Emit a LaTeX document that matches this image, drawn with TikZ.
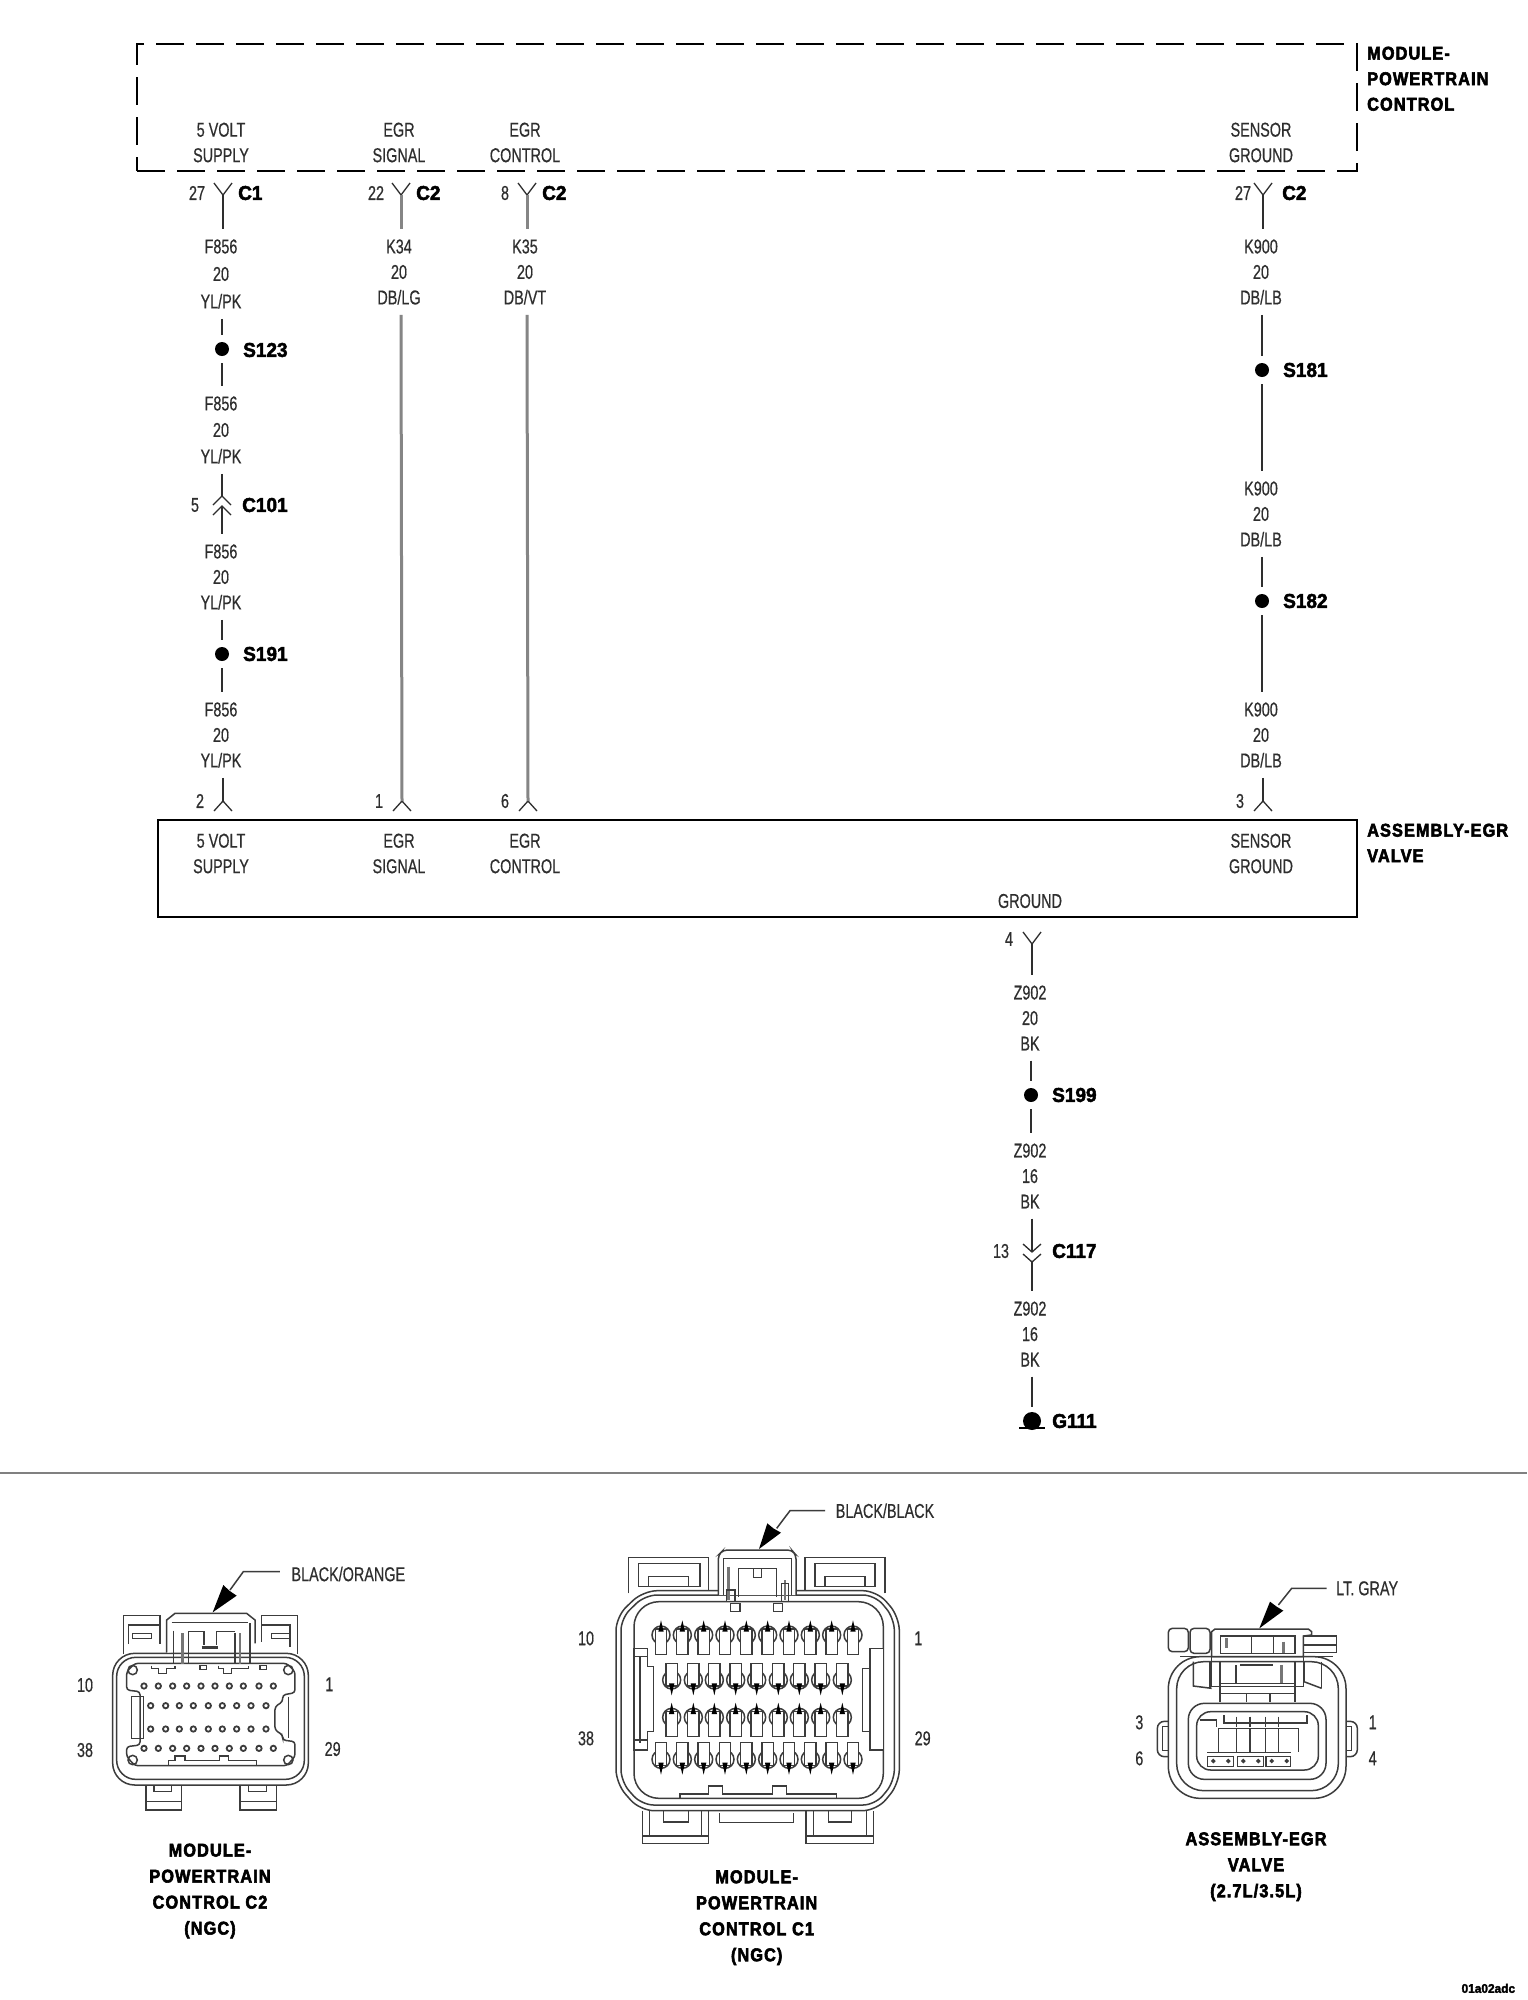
\documentclass[tikz,border=0pt]{standalone}
\usepackage{fontspec}
\setmainfont{Liberation Sans}[FakeStretch=0.72,FakeBold=0.5]
\newfontfamily\heavy{Liberation Sans Bold}[FakeBold=2.4,FakeStretch=0.95]
\newfontfamily\heavyt{Liberation Sans Bold}[FakeBold=3,FakeStretch=0.88,LetterSpace=6]
\definecolor{ink}{HTML}{2E2E2E}
\definecolor{wiregray}{HTML}{858585}
\definecolor{conn}{HTML}{3C3C3C}
\tikzset{
  lab/.style={text=ink,font=\fontsize{20}{25.5}\selectfont,align=center,inner sep=0pt},
  stack/.style={lab,inner xsep=2pt,inner ysep=10pt},
  tag/.style={text=black,font=\heavy\fontsize{20}{24}\selectfont,anchor=west,inner sep=0pt},
  title/.style={text=black,font=\heavyt\fontsize{18.5}{26}\selectfont,align=center,inner sep=0pt},
  sidetitle/.style={text=black,font=\heavyt\fontsize{18.5}{25.5}\selectfont,align=left,inner sep=0pt,anchor=north west},
  wire/.style={draw=ink,line width=1.4pt},
  gwire/.style={draw=wiregray,line width=3pt},
  sym/.style={draw=ink,line width=1.3pt},
  spl/.style={circle,fill=black,inner sep=0pt,minimum size=14pt},
  cl/.style={draw=conn,line width=1.5pt},
  cg/.style={draw=conn!70,line width=2.6pt},
}
\newcommand{\ysym}[3]{\coordinate (#1) at (#2,#3);
  \draw[sym] ([shift={(-9,-12)}]#1) -- (#1) -- ([shift={(9,-12)}]#1);}
\newcommand{\asym}[3]{\coordinate (#1) at (#2,#3);
  \draw[sym] ([shift={(-9,10)}]#1) -- (#1) -- ([shift={(9,10)}]#1);}
\newcommand{\pinup}[2]{%
  \draw[cl,fill=white] (#1,#2) circle (27);
  \draw[cl,fill=white] ({#1-17},{#2-18}) rectangle ({#1+17},{#2+58});
  \fill[black] ({#1-8},{#2-10}) -- (#1,{#2-44}) -- ({#1+8},{#2-10}) -- cycle;}
\newcommand{\pindown}[2]{%
  \draw[cl,fill=white] (#1,#2) circle (27);
  \draw[cl,fill=white] ({#1-17},{#2+18}) rectangle ({#1+17},{#2-50});
  \fill[black] ({#1-8},{#2+10}) -- (#1,{#2+46}) -- ({#1+8},{#2+10}) -- cycle;}
\begin{document}
\begin{tikzpicture}[x=1pt,y=-1pt]
\fill[white] (0,0) rectangle (1527,2000);
\useasboundingbox (0,0) rectangle (1527,2000);

% module boxes
\node[draw=black,line width=2.8pt,dash pattern=on 28pt off 12pt,minimum width=1220pt,minimum height=127pt,inner sep=0pt] (pcm) at (747,107.5) {};
\node[draw=black,line width=2.6pt,minimum width=1199pt,minimum height=97pt,inner sep=0pt] (egr) at (757.5,868.5) {};
\node[sidetitle] (pcmt) at (1367,46.5) {MODULE-\\POWERTRAIN\\CONTROL};
\node[sidetitle] (egrt) at (1367,823.5) {ASSEMBLY-EGR\\VALVE};

% functions in the boxes
\node[lab] (f1) at (221,142.5) {5 VOLT\\SUPPLY};
\node[lab] (f2) at (399,142.5) {EGR\\SIGNAL};
\node[lab] (f3) at (525,142.5) {EGR\\CONTROL};
\node[lab] (f4) at (1261,142.5) {SENSOR\\GROUND};
\node[lab] (e1) at (221,853.5) {5 VOLT\\SUPPLY};
\node[lab] (e2) at (399,853.5) {EGR\\SIGNAL};
\node[lab] (e3) at (525,853.5) {EGR\\CONTROL};
\node[lab] (e4) at (1261,853.5) {SENSOR\\GROUND};
\node[lab] (e5) at (1030,901) {GROUND};

% pins at the module
\ysym{p1}{223}{195} \ysym{p2}{401}{195} \ysym{p3}{527}{195} \ysym{p4}{1263}{195}
\node[lab] (n1) at (197,193) {27}; \node[tag] (t1) at (238,193) {C1};
\node[lab] (n2) at (376,193) {22}; \node[tag] (t2) at (416,193) {C2};
\node[lab] (n3) at (505,193) {8};  \node[tag] (t3) at (542,193) {C2};
\node[lab] (n4) at (1243,193) {27};\node[tag] (t4) at (1282,193) {C2};

% pins at the valve
\asym{q1}{223}{801} \asym{q2}{402}{801} \asym{q3}{528}{801} \asym{q4}{1263}{801}
\node[lab] (m1) at (200,801) {2};
\node[lab] (m2) at (379,801) {1};
\node[lab] (m3) at (505,801) {6};
\node[lab] (m4) at (1240,801) {3};

% 5 volt supply
\node[stack,font=\fontsize{20}{27.5}\selectfont] (a1) at (221,274) {F856\\20\\YL/PK};
\node[spl] (s123) at (222,349) {};
\node[tag] (s123t) at (243,350) {S123};
\node[stack,font=\fontsize{20}{26.5}\selectfont] (a2) at (221,430) {F856\\20\\YL/PK};
\coordinate (c101a) at (222,496); \coordinate (c101b) at (222,506);
\draw[sym] ([shift={(-9,9)}]c101a) -- (c101a) -- ([shift={(9,9)}]c101a);
\draw[sym] ([shift={(-9,9)}]c101b) -- (c101b) -- ([shift={(9,9)}]c101b);
\node[lab] (c101n) at (195,505) {5};
\node[tag] (c101t) at (242,505) {C101};
\node[stack] (a3) at (221,577) {F856\\20\\YL/PK};
\node[spl] (s191) at (222,654) {};
\node[tag] (s191t) at (243,654) {S191};
\node[stack] (a4) at (221,735) {F856\\20\\YL/PK};
\draw[wire] (p1) -- (a1.north -| p1);
\draw[wire] (a1.south -| s123) -- ([yshift=14pt]s123.center);
\draw[wire] ([yshift=-14pt]s123.center) -- (a2.north -| s123);
\draw[wire] (a2.south -| c101a) -- (c101a);
\draw[wire] (c101b) -- (a3.north -| c101b);
\draw[wire] (a3.south -| s191) -- ([yshift=14pt]s191.center);
\draw[wire] ([yshift=-14pt]s191.center) -- (a4.north -| s191);
\draw[wire] (a4.south -| q1) -- (q1);

% EGR signal and control
\node[stack] (b1) at (399,272) {K34\\20\\DB/LG};
\node[stack] (b2) at (525,272) {K35\\20\\DB/VT};
\draw[gwire] (p2) -- (b1.north -| p2);
\draw[gwire] (b1.south -| p2) -- (q2);
\draw[gwire] (p3) -- (b2.north -| p3);
\draw[gwire] (b2.south -| p3) -- (q3);

% sensor ground
\node[stack] (d1) at (1261,272) {K900\\20\\DB/LB};
\node[spl] (s181) at (1262,370) {};
\node[tag] (s181t) at (1283,370) {S181};
\node[stack] (d2) at (1261,514) {K900\\20\\DB/LB};
\node[spl] (s182) at (1262,601) {};
\node[tag] (s182t) at (1283,601) {S182};
\node[stack] (d3) at (1261,735) {K900\\20\\DB/LB};
\draw[wire] (p4) -- (d1.north -| p4);
\draw[wire] (d1.south -| s181) -- ([yshift=14pt]s181.center);
\draw[wire] ([yshift=-14pt]s181.center) -- (d2.north -| s181);
\draw[wire] (d2.south -| s182) -- ([yshift=14pt]s182.center);
\draw[wire] ([yshift=-14pt]s182.center) -- (d3.north -| s182);
\draw[wire] (d3.south -| q4) -- (q4);

% ground
\ysym{g1}{1032}{944}
\node[lab] (g1n) at (1009,939) {4};
\node[stack] (h1) at (1030,1018) {Z902\\20\\BK};
\node[spl] (s199) at (1031,1095) {};
\node[tag] (s199t) at (1052,1095) {S199};
\node[stack] (h2) at (1030,1176) {Z902\\16\\BK};
\coordinate (c117a) at (1032,1252); \coordinate (c117b) at (1032,1262);
\draw[sym] ([shift={(-9,-8)}]c117a) -- (c117a) -- ([shift={(9,-8)}]c117a);
\draw[sym] ([shift={(-9,-8)}]c117b) -- (c117b) -- ([shift={(9,-8)}]c117b);
\node[lab] (c117n) at (1001,1251) {13};
\node[tag] (c117t) at (1052,1251) {C117};
\node[stack] (h3) at (1030,1334) {Z902\\16\\BK};
\coordinate (gnd) at (1032,1428);
\fill[black] (1032,1421) circle (9);
\draw[draw=black,line width=1.8pt] ([xshift=-13pt]gnd) -- ([xshift=13pt]gnd);
\node[tag] (g111t) at (1052,1421) {G111};
\draw[wire] (g1) -- (h1.north -| g1);
\draw[wire] (h1.south -| s199) -- ([yshift=14pt]s199.center);
\draw[wire] ([yshift=-14pt]s199.center) -- (h2.north -| s199);
\draw[wire] (h2.south -| c117a) -- (c117a);
\draw[wire] (c117b) -- (h3.north -| c117b);
\draw[wire] (h3.south -| gnd) -- ([yshift=21pt]gnd);

% separator
\draw[draw=gray,line width=2pt] (0,1473) -- (1527,1473);

% ---------- connector C2
\begin{scope}[shift={(60,1500)},x=0.33333pt,y=-0.33333pt]
\node[lab] (c2a) at (865,222) {BLACK/ORANGE};
\coordinate (c2l) at (660,215);
\draw[cl] (c2l) -- (550,215) -- (510,270);
\fill[black] (458,337) -- (490,255) -- (508,272) -- (530,287) -- cycle;
\draw[cl,rounded corners=22pt] (158,460) rectangle (745,855);
\draw[cl,rounded corners=19pt] (170,472) rectangle (733,838);
\draw[cl,fill=white,rounded corners=3pt] (225,490)--(680,490)--(705,515)--(705,578)--(668,585)--(668,605)--(645,620)--(645,690)--(668,705)--(668,720)--(705,725)--(705,770)--(680,797)--(225,797)--(200,770)--(200,740)--(240,735)--(240,575)--(200,570)--(200,515)--cycle;
\draw[cl] (215,590) -- (215,715) -- (250,715) -- (250,590) -- cycle;
\draw[cl] (685,590) -- (685,715);
\draw[cl] (218,510) circle (14); \draw[cl] (685,510) circle (14);
\draw[cl] (218,780) circle (14); \draw[cl] (685,780) circle (14);
\draw[cl] (275,497)--(275,505)--(295,505)--(295,520)--(320,520)--(320,505)--(345,505)--(345,497);
\draw[cl] (420,497) rectangle (440,508);
\draw[cl] (475,497)--(475,505)--(490,505)--(490,520)--(515,520)--(515,505)--(565,505)--(565,497);
\draw[cl] (600,497) rectangle (620,508);
\draw[cl] (325,797)--(325,782)--(345,782)--(345,768)--(375,768)--(375,782)--(478,782)--(478,768)--(505,768)--(505,782)--(590,782)--(590,797);
\foreach \px in {252,295,338,380,423,465,508,550,597,640}{
  \draw[cl,line width=1.8pt] (\px,558) circle (8);
  \draw[cl,line width=1.8pt] (\px,745) circle (8);}
\foreach \px in {272,317,358,400,445,487,530,573,618}{
  \draw[cl,line width=1.8pt] (\px,617) circle (8);
  \draw[cl,line width=1.8pt] (\px,687) circle (8);}
% upper tabs
\draw[cl] (190,462)--(190,347)--(300,347)--(300,432);
\draw[cl] (205,432)--(205,375)--(300,375);
\draw[cl] (218,400) rectangle (275,415);
\draw[cl] (712,462)--(712,347)--(605,347)--(605,425);
\draw[cl] (690,440)--(690,375)--(605,375);
\draw[cl] (635,400) rectangle (690,415);
% latch
\draw[cl,fill=white] (320,458)--(320,360)--(345,340)--(560,340)--(585,360)--(585,430);
\draw[cl] (335,368)--(565,368);
\draw[cl] (340,392)--(340,492); \draw[cl] (385,395)--(385,492); \draw[cg] (368,400)--(368,492);
\draw[cl] (570,370)--(570,492); \draw[cl] (525,400)--(525,492); \draw[cg] (540,400)--(540,492);
\draw[cl] (385,395)--(432,395)--(432,435); \draw[cl] (525,395)--(470,395)--(470,435);
\draw[cl,line width=2.4pt] (425,442)--(475,442);
\draw[cl] (390,460)--(525,460);
% lower tabs
\draw[cl] (258,855)--(258,930)--(365,930)--(365,855); \draw[cl] (258,905)--(365,905);
\draw[cl] (282,858)--(282,875)--(335,875)--(335,858);
\draw[cl] (540,855)--(540,930)--(650,930)--(650,855); \draw[cl] (540,905)--(650,905);
\draw[cl] (565,858)--(565,875)--(620,875)--(620,858);
\node[lab] (c2n1) at (75,555) {10};
\node[lab] (c2n2) at (808,553) {1};
\node[lab] (c2n3) at (75,750) {38};
\node[lab] (c2n4) at (818,747) {29};
\node[title] (c2t) at (450,1173) {MODULE-\\POWERTRAIN\\CONTROL C2\\(NGC)};
\end{scope}

% ---------- connector C1
\begin{scope}[shift={(560,1480)},x=0.33333pt,y=-0.33333pt]
\node[lab] (c1a) at (975,92) {BLACK/BLACK};
\draw[cl] (795,92) -- (690,92) -- (650,145);
\fill[black] (597,207) -- (622,130) -- (640,145) -- (663,158) -- cycle;
% tabs
\draw[cl] (205,340)--(205,232)--(445,232)--(445,330);
\draw[cl] (235,320)--(235,250)--(420,250)--(420,320)--cycle;
\draw[cl] (265,320)--(265,290)--(385,290)--(385,320);
\draw[cl] (975,340)--(975,232)--(735,232)--(735,330);
\draw[cl] (945,320)--(945,250)--(765,250)--(765,320)--cycle;
\draw[cl] (915,320)--(915,290)--(795,290)--(795,320);
% shell
\draw[cl,rounded corners=14pt] (250,332)--(950,332)--(1018,410)--(1018,910)--(950,992)--(240,992)--(168,910)--(168,410)--cycle;
\draw[cl,rounded corners=12pt] (255,345)--(945,345)--(1003,415)--(1003,905)--(945,975)--(245,975)--(183,905)--(183,415)--cycle;
\draw[cl,rounded corners=25pt] (222,365) rectangle (970,955);
% latch
\draw[cl,fill=white,rounded corners=4pt] (475,345)--(475,225)--(490,210)--(695,210)--(708,225)--(708,345);
\draw[cl] (490,345)--(490,235)--(695,235)--(695,345);
\draw[cl] (535,350)--(535,265)--(650,265)--(650,350);
\draw[cl] (580,265)--(580,292)--(605,292)--(605,265);
\draw[cg] (505,260)--(505,360); \draw[cg] (675,300)--(675,360);
\draw[cl] (500,330) rectangle (525,365); \draw[cl] (665,310) rectangle (685,365);
\draw[cl] (512,370) rectangle (540,395); \draw[cl] (640,370) rectangle (668,395);
% side details
\draw[cl,fill=white] (222,505)--(262,505)--(262,560)--(280,560)--(280,755)--(262,755)--(262,810)--(222,810)--cycle;
\draw[cl] (240,530)--(240,790); \draw[cl] (222,530)--(262,530); \draw[cl] (222,780)--(262,780);
\draw[cl,fill=white] (970,505)--(930,505)--(930,565)--(908,565)--(908,755)--(930,755)--(930,810)--(970,810)--cycle;
\draw[cl] (930,565)--(930,755);
% pins
\foreach \px in {303,367,431,495,559,623,687,751,815,879}{
  \pinup{\px}{465}
  \pindown{\px}{838}}
\foreach \px in {335,400,463,527,590,655,718,782,847}{
  \pindown{\px}{600}
  \pinup{\px}{712}}
% bottom details
\draw[cl] (360,955)--(360,942)--(445,942)--(445,918)--(488,918)--(488,942)--(638,942)--(638,918)--(680,918)--(680,942)--(830,942)--(830,955);
\draw[cl] (248,992)--(248,1090)--(445,1090)--(445,992); \draw[cl] (248,1068)--(445,1068);
\draw[cl] (268,992)--(268,1068); \draw[cl] (425,992)--(425,1068);
\draw[cl] (310,992)--(310,1026)--(385,1026)--(385,992);
\draw[cl] (738,992)--(738,1090)--(940,1090)--(940,992); \draw[cl] (738,1068)--(940,1068);
\draw[cl] (760,992)--(760,1068); \draw[cl] (920,992)--(920,1068);
\draw[cl] (805,992)--(805,1026)--(875,1026)--(875,992);
\draw[cl] (478,1000)--(478,1028)--(700,1028)--(700,1000);
\node[lab] (c1n1) at (78,475) {10};
\node[lab] (c1n2) at (1075,475) {1};
\node[lab] (c1n3) at (78,775) {38};
\node[lab] (c1n4) at (1088,775) {29};
\node[title] (c1t) at (590,1313) {MODULE-\\POWERTRAIN\\CONTROL C1\\(NGC)};
\end{scope}

% ---------- valve connector
\begin{scope}[shift={(1100,1560)},x=0.33333pt,y=-0.33333pt]
\node[lab,anchor=west] (vla) at (708,85) {LT. GRAY};
\draw[cl] (680,85) -- (575,85) -- (535,135);
\fill[black] (478,205) -- (510,125) -- (530,140) -- (550,152) -- cycle;
\draw[cl,rounded corners=32pt] (205,290) -- (205,715) -- (738,715) -- (738,290) -- cycle;
\draw[cl,rounded corners=27pt] (230,305) -- (230,692) -- (715,692) -- (715,305) -- cycle;
% tabs and top band
\draw[cl,fill=white,rounded corners=4pt] (205,275) rectangle (265,205);
\draw[cl,fill=white,rounded corners=4pt] (270,280) rectangle (330,205);
\draw[cl,fill=white] (610,278) rectangle (710,228);
\draw[cl] (610,255) -- (710,255);
\draw[cl,fill=white] (335,290) -- (335,215) -- (345,207) -- (625,207) -- (635,215) -- (635,225) -- (610,228) -- (610,290) -- cycle;
\draw[cl] (240,290) -- (700,290);
\draw[cl] (362,280) rectangle (585,228);
\draw[cl] (362,280) -- (455,280) -- (455,228);
\draw[cl] (520,280) -- (520,228); \draw[cg] (550,245) -- (550,280);
\draw[cg] (380,235) -- (380,265);
% centre block
\draw[cl] (335,290) -- (335,380) -- (610,380) -- (610,290);
\draw[cl] (360,305) rectangle (585,370);
\draw[cl] (408,315) -- (408,370); \draw[cg] (545,315) -- (545,370); \draw[cl] (420,315) -- (520,315);
\draw[cl] (360,305) -- (360,425); \draw[cl] (585,305) -- (585,425);
\draw[cl] (360,400) -- (585,400); \draw[cl] (440,400) -- (440,425); \draw[cl] (510,400) -- (510,425);
\draw[cl] (280,305) -- (280,378) -- (335,385); \draw[cl] (330,305) -- (330,385);
\draw[cl] (612,305) -- (612,365) -- (665,385); \draw[cl] (665,305) -- (665,385);
% cavity
\draw[cl,rounded corners=16pt] (265,430) rectangle (678,658);
\draw[cl,rounded corners=14pt] (290,455) rectangle (655,630);
\foreach \px in {355,410,450,497,535,595}{\draw[cl] (\px,505) -- (\px,575);}
\draw[cl] (355,505)--(595,505);
\draw[cl,line width=1.8pt] (372,465)--(372,490)--(620,490)--(620,465);
\draw[cl] (300,480)--(350,480)--(350,500);
\foreach \px in {410,450,497,535}{\draw[cl] (\px,470) -- (\px,500);}
\draw[cl] (322,590) rectangle (400,620); \draw[cl] (412,590) rectangle (490,620); \draw[cl] (498,590) rectangle (572,620);
\foreach \px in {340,385,430,475,515,560}{\draw[cl] (\px,603) circle (4);}
\draw[cl] (322,578)--(572,578);
% side ears
\draw[cl,rounded corners=7pt] (205,484) -- (172,484) -- (172,590) -- (205,590);
\draw[cl] (205,500) -- (188,500) -- (188,572) -- (205,572);
\draw[cl,rounded corners=7pt] (738,484) -- (772,484) -- (772,590) -- (738,590);
\draw[cl] (738,500) -- (755,500) -- (755,572) -- (738,572);
\node[lab] (vn1) at (118,487) {3};
\node[lab] (vn2) at (118,595) {6};
\node[lab] (vn3) at (818,487) {1};
\node[lab] (vn4) at (818,595) {4};
\node[title] (vt) at (468,920) {ASSEMBLY-EGR\\VALVE\\(2.7L/3.5L)};
\node[text=black,font=\heavy\fontsize{12.5}{14}\selectfont,inner sep=0pt] (code) at (1165,1285) {01a02adc};
\end{scope}
\end{tikzpicture}
\end{document}
